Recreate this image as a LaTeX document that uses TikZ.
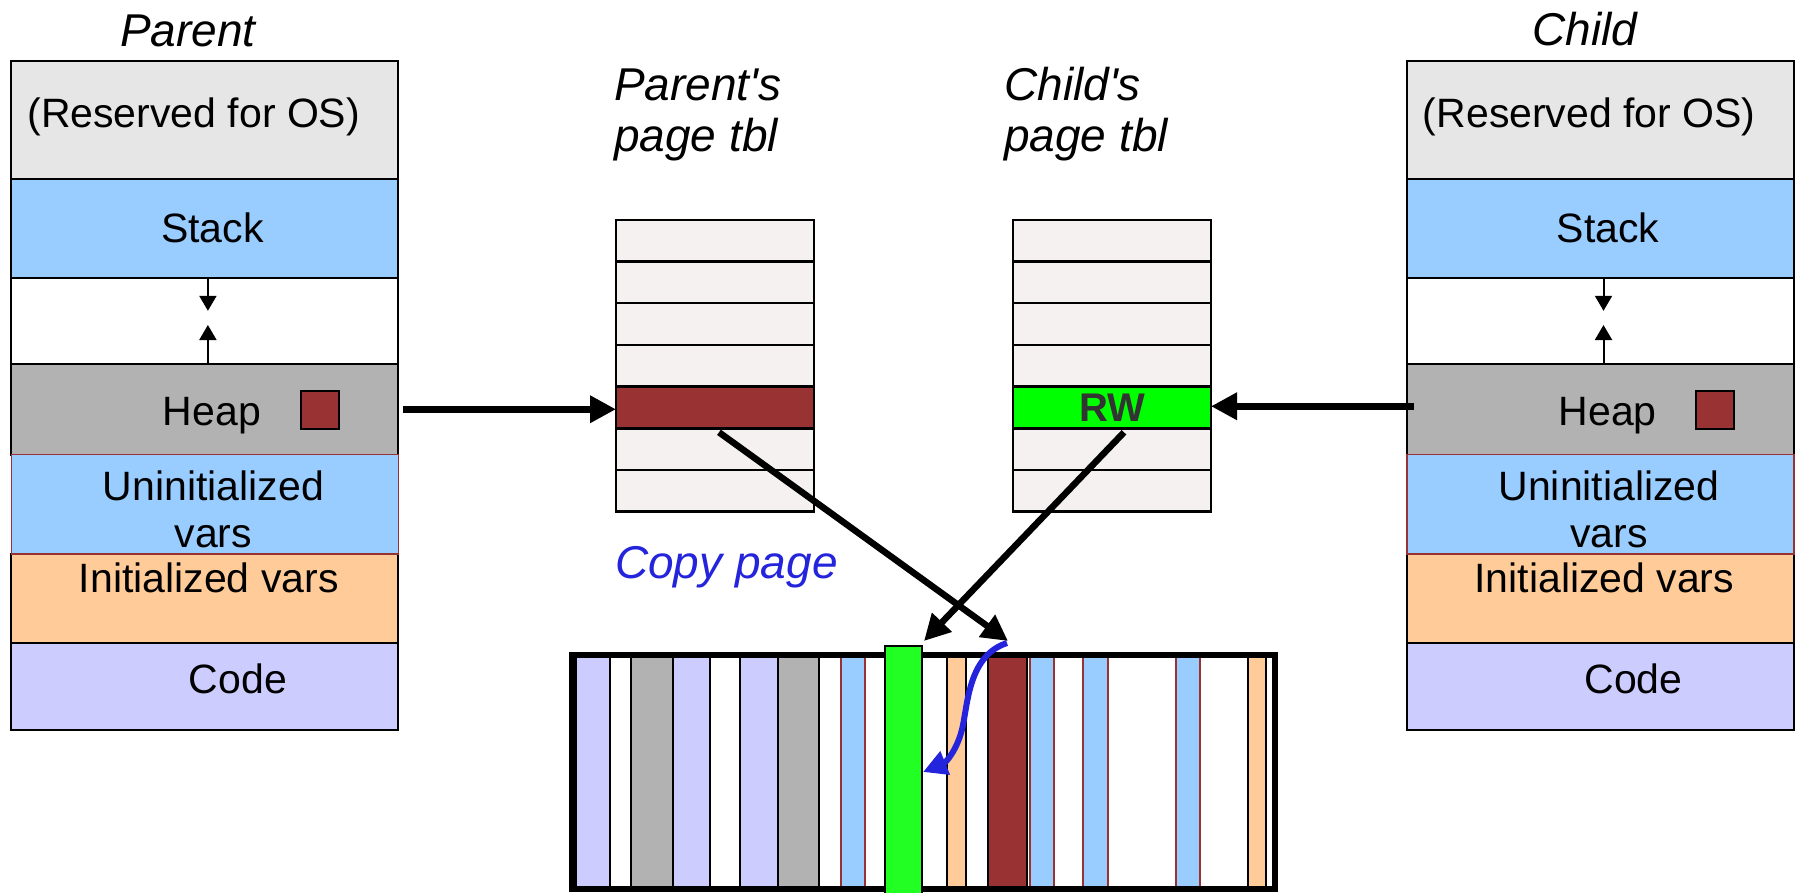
\documentclass[tikz,border=0pt]{standalone}
\usepackage{fontspec}
\setmainfont{Liberation Sans}
\usetikzlibrary{arrows.meta}
\definecolor{resgray}{HTML}{E6E6E6}
\definecolor{stackblue}{HTML}{99CCFF}
\definecolor{heapgray}{HTML}{B2B2B2}
\definecolor{initorange}{HTML}{FFCC99}
\definecolor{codelav}{HTML}{CCCCFF}
\definecolor{heapred}{HTML}{993333}
\definecolor{rwgreen}{HTML}{00FF00}
\definecolor{memgreen}{HTML}{22FF22}
\definecolor{tblrow}{HTML}{F4F1F0}
\definecolor{copyblue}{HTML}{2424DC}
\definecolor{rwtext}{HTML}{333333}
\tikzset{
  seg/.style={draw=black, line width=2pt, inner sep=0pt, outer sep=0pt, anchor=north west, minimum width=387pt},
  lbl/.style={font=\fontsize{41}{47}\selectfont, anchor=base, inner sep=0pt},
  ital/.style={font=\fontsize{46}{51}\selectfont\itshape, inner sep=0pt, anchor=base},
  tblrowbox/.style={draw=black, line width=2.5pt, fill=tblrow, minimum width=198pt, minimum height=41.7pt, inner sep=0pt, outer sep=0pt, anchor=north west},
  bigarrow/.style={line width=6.5pt, -{Triangle[length=26pt,width=26pt]}},
  gaparrow/.style={line width=2pt, -{Triangle[length=15pt,width=17pt]}},
  stripebox/.style={draw=black, line width=2pt},
}
\newcommand\memstack[2]{%
\begin{scope}[xshift=#1pt]
  \node[seg, fill=resgray, minimum height=117.9pt] (#2res) at (11.4,60.7) {};
  \node[seg, fill=stackblue, minimum height=99.6pt] (#2stk) at (11.4,178.6) {};
  \node[seg, fill=white, minimum height=85.8pt] (#2gap) at (11.4,278.2) {};
  \node[seg, fill=heapgray, minimum height=90.5pt] (#2heap) at (11.4,364) {};
  \node[seg, fill=initorange, minimum height=89.3pt] (#2init) at (11.4,554.1) {};
  \node[seg, fill=codelav, minimum height=87pt] (#2code) at (11.4,643.4) {};
  \node[seg, draw=heapred, line width=1.5pt, fill=stackblue, minimum height=99.6pt] (#2uninit) at (11.4,454.5) {};
  \node[lbl] (#2tres) at (193.7,127) {(Reserved for OS)};
  \node[lbl] (#2tstk) at (212.4,242.6) {Stack};
  \node[lbl] (#2theap) at (212,425) {Heap};
  \node[lbl] (#2tun1) at (213.5,500) {Uninitialized};
  \node[lbl] (#2tun2) at (213.4,547) {vars};
  \node[lbl] (#2tinit) at (208.7,592.5) {Initialized vars};
  \node[lbl] (#2tcode) at (237.9,693) {Code};
  \node[draw=black, line width=2pt, fill=heapred, minimum width=38pt, minimum height=38pt, inner sep=0pt] (#2sq) at (319.5,409.5) {};
  \coordinate (#2ga) at (207.9,310.8);
  \coordinate (#2gb) at (207.9,325);
  \draw[gaparrow] (#2gap.north -| #2ga) -- (#2ga);
  \draw[gaparrow] (#2gap.south -| #2gb) -- (#2gb);
\end{scope}}
\begin{document}
\begin{tikzpicture}[x=1pt,y=-1pt]
\useasboundingbox (0,0) rectangle (1795,892);
\fill[white] (0,0) rectangle (1795,892);

% titles
\node[ital] (tparent) at (188,46) {Parent};
\node[ital] (tchild) at (1585,45) {Child};

% stacks
\memstack{0}{p}
\memstack{1395.6}{c}

% page tables
\foreach \i in {1,...,7} {
  \node[tblrowbox] (prow\i) at (616,{219.8+(\i-1)*41.7}) {};
  \node[tblrowbox] (crow\i) at (1013,{219.8+(\i-1)*41.7}) {};
}
\node[tblrowbox, fill=heapred] (prow5) at (616,{219.8+4*41.7}) {};
\node[tblrowbox, fill=rwgreen] (crow5) at (1013,{219.8+4*41.7}) {};
\node[font=\fontsize{40}{44}\selectfont\bfseries, text=rwtext, inner sep=0pt] (rw) at (crow5.center) {RW};

\node[ital, anchor=base west] (plab1) at (614,100) {Parent\textquotesingle s};
\node[ital, anchor=base west] (plab2) at (614,151) {page tbl};
\node[ital, anchor=base west] (clab1) at (1004,100) {Child\textquotesingle s};
\node[ital, anchor=base west] (clab2) at (1004,151) {page tbl};
\node[ital, anchor=base west, text=copyblue] (copy) at (615,578) {Copy page};

% memory strip
\foreach \a/\b/\c in {576.3/610.3/codelav, 631.2/673.1/heapgray, 673.1/710.4/codelav, 739.7/777.9/codelav, 777.9/818.8/heapgray, 947.3/966.4/initorange, 988.3/1027/heapred, 1247.6/1266.2/initorange} {
  \draw[stripebox, fill=\c] (\a,657) rectangle (\b,888);
}
\foreach \a/\b in {840.7/865.4, 1030.2/1054.4, 1083.3/1108, 1175.5/1199.7} {
  \draw[stripebox, draw=heapred, fill=stackblue] (\a,657) rectangle (\b,888);
}
\draw[line width=5.5pt] (572,655) rectangle (1275,889);
\draw[line width=2pt, fill=memgreen] (884.5,646) rectangle (922.2,900);
\coordinate (gtip) at (924,641);
\coordinate (rtip) at (1008,641);

% arrows
\draw[bigarrow] ([xshift=5pt]pheap.east) -- (pheap.east -| prow5.west);
\draw[bigarrow] ([xshift=7pt,yshift=3pt]cheap.west) -- ([yshift=3pt]cheap.west -| crow5.east);
\draw[bigarrow] ([xshift=4pt,yshift=-4pt]prow5.south) -- (rtip);
\draw[bigarrow] ([xshift=12pt,yshift=-4pt]crow5.south) -- (gtip);
\draw[line width=6pt, copyblue, -{Triangle[length=24pt,width=24pt]}] (1007,643) .. controls (970,655) and (968,700) .. (963,725) .. controls (958,750) and (945,763) .. (923,772);
\end{tikzpicture}
\end{document}
